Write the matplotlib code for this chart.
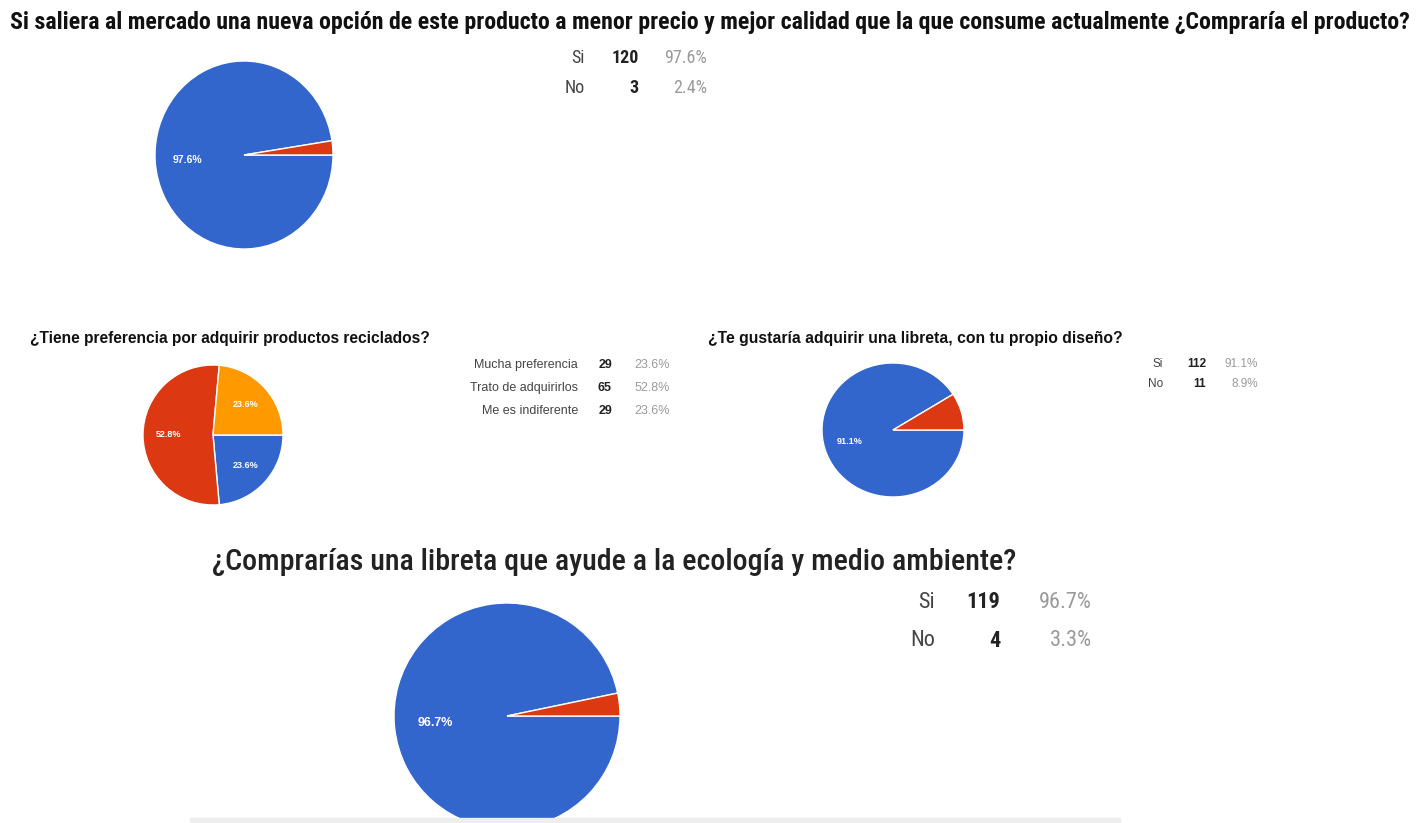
import matplotlib
matplotlib.use('Agg')
import matplotlib.pyplot as plt
from matplotlib import font_manager

W, H = 1422, 823

titulo1 = ('Si saliera al mercado una nueva opción de este producto a menor precio y mejor '
           'calidad que la que consume actualmente ¿Compraría el producto?')
resp1 = ['Si', 'No']
cant1 = [120, 3]

titulo2 = '¿Tiene preferencia por adquirir productos reciclados?'
resp2 = ['Mucha preferencia', 'Trato de adquirirlos', 'Me es indiferente']
cant2 = [29, 65, 29]

titulo3 = '¿Te gustaría adquirir una libreta, con tu propio diseño?'
resp3 = ['Si', 'No']
cant3 = [112, 11]

titulo4 = '¿Comprarías una libreta que ayude a la ecología y medio ambiente?'
resp4 = ['Si', 'No']
cant4 = [119, 4]

azul, rojo, naranja = '#3366cc', '#dc3912', '#ff9900'
arial = ['Liberation Sans', 'DejaVu Sans']

# fuente condensada si existe alguna
instaladas = {f.name for f in font_manager.fontManager.ttflist}
narrow = [f for f in ['Roboto Condensed', 'Liberation Sans Narrow', 'Open Sans Condensed']
          if f in instaladas] + arial

fig = plt.figure(figsize=(W / 100, H / 100), dpi=100)
fig.patch.set_facecolor('white')
renderer = fig.canvas.get_renderer()


def fx(x):
    return x / W


def fy(y):
    return 1 - y / H


def texto(x, y, s, ancho=None, **kw):
    t = fig.text(fx(x), fy(y), s, va='center', **kw)
    if ancho:
        w = t.get_window_extent(renderer).width
        t.set_fontsize(t.get_fontsize() * ancho / w)
    return t


def pastel(cx, cy, rx, ry, valores, colores, corte=None, fs=8):
    abajo = cy + ry if corte is None else corte
    ax = fig.add_axes([fx(cx - rx), fy(abajo), 2 * rx / W, (abajo - (cy - ry)) / H])
    ax.pie(valores, colors=colores, startangle=0, counterclock=False,
           autopct=lambda p: f'{p:.1f}%' if p > 10 else '', pctdistance=0.64,
           wedgeprops=dict(edgecolor='white', linewidth=1),
           textprops=dict(color='white', fontsize=fs, fontweight='bold', family=arial))
    ax.set_aspect('auto')
    ax.set_xlim(-1, 1)
    ax.set_ylim(-(abajo - cy) / ry, 1)
    return ax


def tabla(xl, xc, xp, ys, resp, cant, fs, fam):
    total = sum(cant)
    for y, r, c in zip(ys, resp, cant):
        texto(xl, y, r, ha='right', fontsize=fs, color='#444444', family=fam)
        texto(xc, y, str(c), ha='right', fontsize=fs, color='#222222',
              fontweight='bold', family=fam)
        texto(xp, y, f'{100 * c / total:.1f}%', ha='right', fontsize=fs,
              color='#9a9a9a', family=fam)


# pregunta 1
texto(10, 22, titulo1, ancho=1400, fontsize=12, fontweight='bold', family=narrow, color='#111111')
pastel(244, 155, 89, 94, cant1, [azul, rojo], fs=7.5)
tabla(585, 639, 707, [58, 88], resp1, cant1, 13, narrow)

# pregunta 2
texto(30, 339, titulo2, ancho=400, fontsize=9, fontweight='bold', family=arial, color='#111111')
pastel(213, 435, 70, 70, cant2, [azul, rojo, naranja], fs=6.5)
tabla(578, 612, 670, [365, 388, 411], resp2, cant2, 9, arial)

# pregunta 3
texto(708, 338, titulo3, ancho=414, fontsize=9, fontweight='bold', family=arial, color='#111111')
pastel(893, 430, 71, 67, cant3, [azul, rojo], fs=6.5)
tabla(1163, 1206, 1258, [364, 384], resp3, cant3, 8.5, arial)

# pregunta 4
texto(212, 562, titulo4, ancho=806, fontsize=17, fontweight='medium', family=narrow,
      color='#222222')
pastel(507, 716, 113, 113, cant4, [azul, rojo], corte=817, fs=9)
tabla(935, 1000, 1092, [602, 641], resp4, cant4, 16, narrow)

fig.add_artist(plt.Rectangle((fx(190), fy(823)), (1120 - 190) / W, 5 / H,
                             transform=fig.transFigure, color='#eeeeee'))

fig.savefig('out.png', dpi=100)
